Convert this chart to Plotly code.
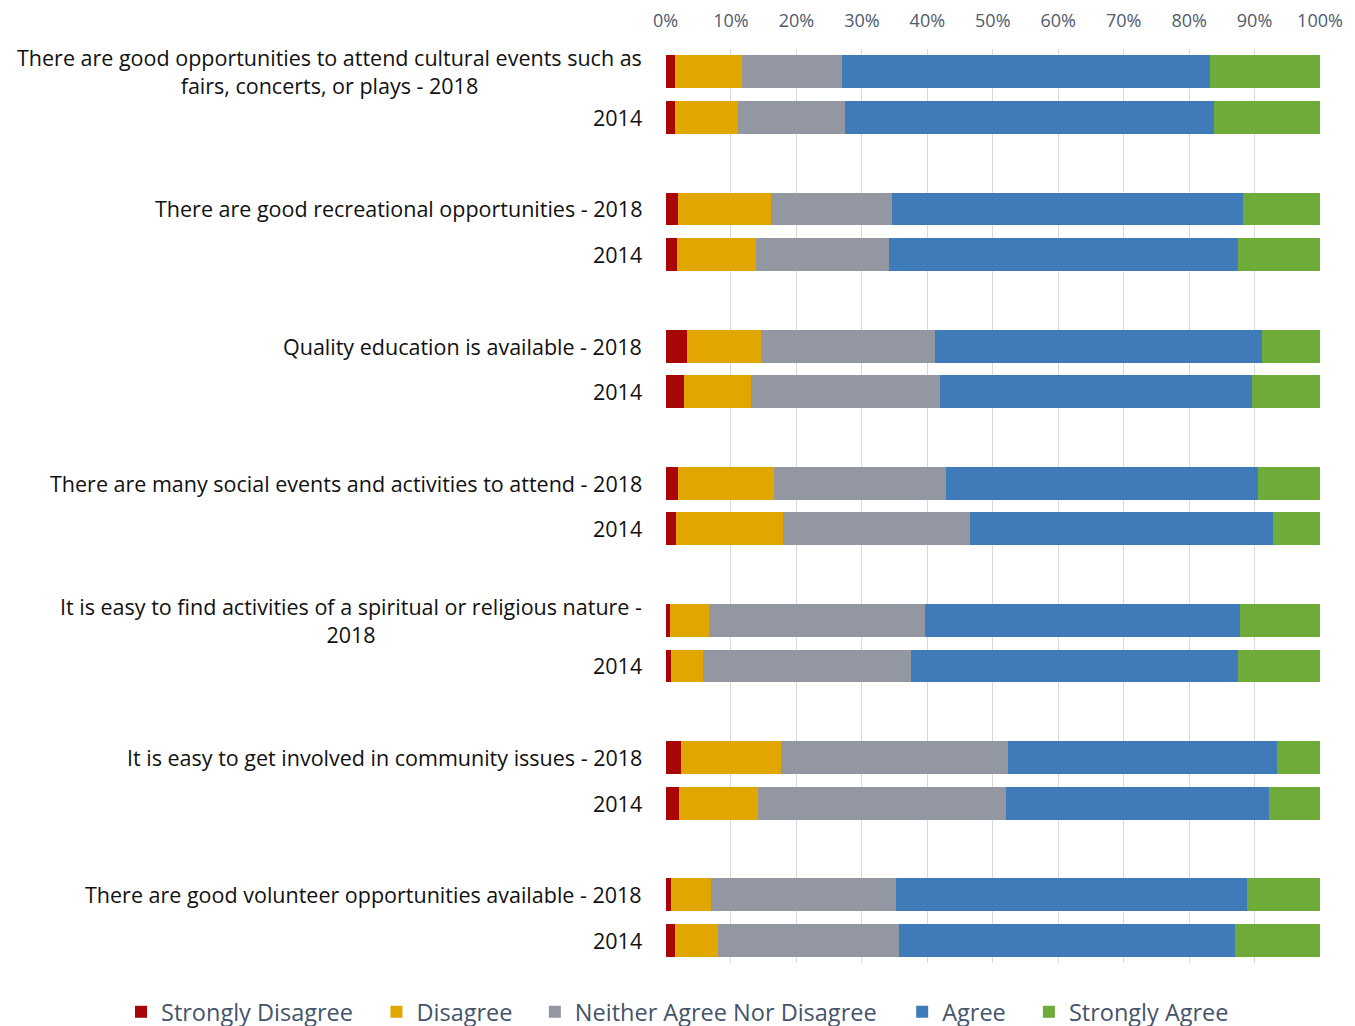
import plotly.graph_objects as go

statements = [
    "There are good opportunities to attend cultural events such as<br>fairs, concerts, or plays",
    "There are good recreational opportunities",
    "Quality education is available",
    "There are many social events and activities to attend",
    "It is easy to find activities of a spiritual or religious nature -<br>2018",
    "It is easy to get involved in community issues",
    "There are good volunteer opportunities available",
]
years = ["2018", "2014"]

series_names = ["Strongly Disagree", "Disagree", "Neither Agree Nor Disagree", "Agree", "Strongly Agree"]

# values ordered: [stmt1-2018, stmt1-2014, stmt2-2018, stmt2-2014, ...] (percent)
strongly_disagree = [1.4, 1.4, 1.8, 1.7, 3.2, 2.7, 1.8, 1.5, 0.6, 0.8, 2.3, 2.0, 0.8, 1.3]
disagree          = [10.2, 9.6, 14.3, 12.0, 11.3, 10.3, 14.7, 16.4, 6.0, 4.8, 15.3, 12.1, 6.1, 6.6]
neither           = [15.3, 16.4, 18.5, 20.4, 26.6, 28.9, 26.3, 28.6, 33.0, 31.8, 34.6, 37.9, 28.2, 27.7]
agree             = [56.2, 56.4, 53.6, 53.3, 50.0, 47.6, 47.6, 46.3, 48.1, 50.0, 41.2, 40.1, 53.7, 51.3]
strongly_agree    = [16.9, 16.2, 11.8, 12.6, 8.9, 10.5, 9.6, 7.2, 12.3, 12.6, 6.6, 7.9, 11.2, 13.1]

tick_vals = [0, 10, 20, 30, 40, 50, 60, 70, 80, 90, 100]
tick_text = ["0%", "10%", "20%", "30%", "40%", "50%", "60%", "70%", "80%", "90%", "100%"]

colors = ["#A80606", "#E2A600", "#9297A1", "#3E7BB8", "#6FAB38"]
all_series = [strongly_disagree, disagree, neither, agree, strongly_agree]
legend_left_px = [109, 367, 527, 898, 1026]

FONT = "Open Sans"
W, H = 1355, 1026
ML, MR, MT, MB = 0, 43, 40, 71
PW = W - ML - MR

# slot positions: each statement occupies 3 slots (2018, 2014, gap)
ypos = []
labels = []
for g, s in enumerate(statements):
    for k, yr in enumerate(years):
        ypos.append(3 * g + k)
        if k == 0:
            labels.append(s if s.endswith("2018") else s + " - " + yr)
        else:
            labels.append(yr)

fig = go.Figure()
legend_layouts = {}
for i, (name, vals, col) in enumerate(zip(series_names, all_series, colors)):
    lg = "legend" if i == 0 else f"legend{i + 1}"
    fig.add_trace(go.Bar(
        x=vals, y=ypos, name=name, orientation="h",
        marker=dict(color=col, line=dict(width=0)),
        width=0.72, hoverinfo="skip", legend=lg,
    ))
    legend_layouts[lg] = dict(
        orientation="h", x=(legend_left_px[i] - 8) / PW, xanchor="left",
        y=-0.054, yanchor="middle", bgcolor="rgba(0,0,0,0)",
        font=dict(family=FONT, size=23.5, color="#44546A"),
        itemwidth=30,
    )

for yv, lab in zip(ypos, labels):
    fig.add_annotation(
        x=629 / PW, xref="paper", y=yv, yref="y",
        text=lab, showarrow=False, xanchor="right", yanchor="middle",
        align="center", font=dict(family=FONT, size=21.5, color="#111111"),
    )

fig.update_layout(
    barmode="stack",
    width=W, height=H,
    margin=dict(l=ML, r=MR, t=MT, b=MB),
    paper_bgcolor="white", plot_bgcolor="white",
    bargap=0,
    xaxis=dict(
        domain=[651 / PW, 1],
        side="top", range=[0, 100], tickvals=tick_vals, ticktext=tick_text,
        showgrid=True, gridcolor="#D9D9D9", gridwidth=1, zeroline=False,
        ticks="outside", ticklen=14, tickcolor="rgba(0,0,0,0)",
        tickfont=dict(family=FONT, size=18, color="#4F5B6E"),
        showline=False, fixedrange=True,
    ),
    yaxis=dict(
        range=[19.5, -0.5], showticklabels=False, showgrid=False, zeroline=False,
        showline=False, fixedrange=True,
    ),
    showlegend=True,
    **legend_layouts,
)

fig.write_html("out.html")
